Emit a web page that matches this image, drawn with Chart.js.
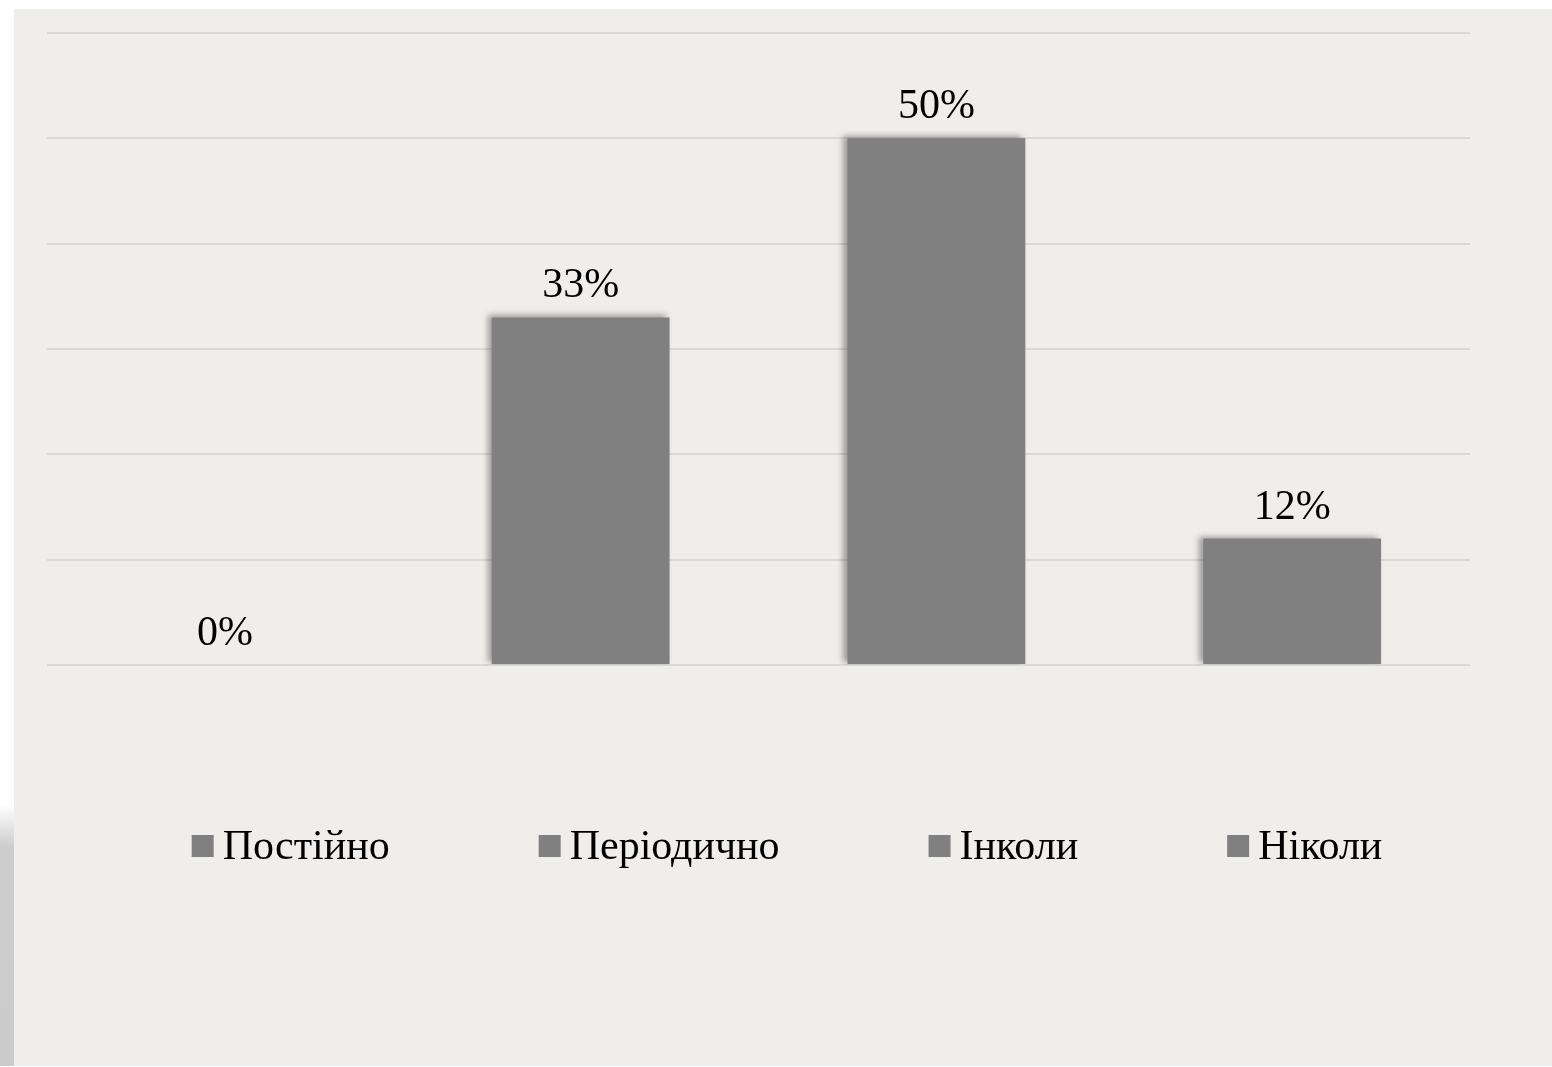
<!DOCTYPE html>
<html>
<head>
<meta charset="utf-8">
<script src="https://cdn.jsdelivr.net/npm/chart.js@4.4.1/dist/chart.umd.min.js"></script>
<style>
  html, body { margin: 0; padding: 0; background: #fff; }
  body { width: 1552px; height: 1067px; position: relative; overflow: hidden; }
  #shadow {
    position: absolute; left: 0; top: 805px; width: 14px; height: 261px;
    background: linear-gradient(to bottom, rgba(205,205,205,0) 0%, #cdcdcd 16%, #cbcbcb 100%);
  }
  #panel {
    position: absolute; left: 14px; top: 9px; width: 1538px; height: 1057px;
    background: #efeeea;
  }
</style>
</head>
<body>
<div id="shadow"></div>
<div id="panel"><canvas id="chart" width="1538" height="1057"></canvas></div>
<script>
const seriesNames = ["Постійно", "Періодично", "Інколи", "Ніколи"];
const seriesValues = [0, 33, 50, 12];
const yTicks = [0, 10, 20, 30, 40, 50, 60];

const barColor = "#808080";
const fontFamily = "'Liberation Serif', 'Times New Roman', serif";

// soft shadow to the upper left of the bars
const barShadow = {
    id: "barShadow",
    beforeDatasetsDraw(chart) {
        const ctx = chart.ctx;
        ctx.save();
        ctx.shadowColor = "rgba(0,0,0,0.35)";
        ctx.shadowBlur = 6;
        ctx.shadowOffsetX = -4;
        ctx.shadowOffsetY = -2;
    },
    afterDatasetsDraw(chart) {
        chart.ctx.restore();
    }
};

// value labels above each bar
const valueLabels = {
    id: "valueLabels",
    afterDatasetsDraw(chart) {
        const ctx = chart.ctx;
        ctx.save();
        ctx.font = "42px " + fontFamily;
        ctx.fillStyle = "#000";
        ctx.textAlign = "center";
        ctx.textBaseline = "alphabetic";
        chart.data.datasets.forEach((ds, i) => {
            chart.getDatasetMeta(i).data.forEach((bar, j) => {
                ctx.fillText(ds.data[j] + "%", bar.x, bar.y - 20);
            });
        });
        ctx.restore();
    }
};

// legend row at the bottom
const bottomLegend = {
    id: "bottomLegend",
    afterDraw(chart) {
        const ctx = chart.ctx;
        const box = 22, gap = 9, spacing = 149, cy = 837;
        ctx.save();
        ctx.font = "42px " + fontFamily;
        ctx.textBaseline = "middle";
        ctx.textAlign = "left";
        const items = chart.data.datasets.map(ds => ({
            text: ds.label, color: ds.backgroundColor,
            w: box + gap + ctx.measureText(ds.label).width
        }));
        const total = items.reduce((s, it) => s + it.w, 0) + spacing * (items.length - 1);
        let x = chart.width / 2 + 4 - total / 2;
        items.forEach(it => {
            ctx.fillStyle = it.color;
            ctx.fillRect(x, cy - box / 2, box, box);
            ctx.fillStyle = "#000";
            ctx.fillText(it.text, x + box + gap, cy + 2);
            x += it.w + spacing;
        });
        ctx.restore();
    }
};

new Chart(document.getElementById("chart"), {
    type: "bar",
    data: {
        labels: [""],
        datasets: seriesNames.map((name, i) => ({
            label: name,
            data: [seriesValues[i]],
            backgroundColor: barColor,
            borderWidth: 0,
            categoryPercentage: 1,
            barPercentage: 0.5
        }))
    },
    options: {
        responsive: false,
        animation: false,
        layout: { padding: { left: 33, right: 82, top: 24, bottom: 401 } },
        plugins: {
            legend: { display: false },
            tooltip: { enabled: false }
        },
        scales: {
            x: { display: false },
            y: {
                min: yTicks[0],
                max: yTicks[yTicks.length - 1],
                afterBuildTicks: axis => { axis.ticks = yTicks.map(v => ({ value: v })); },
                ticks: { display: false },
                border: { display: false },
                grid: { color: "#d9d9d9", lineWidth: 2, drawTicks: false }
            }
        }
    },
    plugins: [barShadow, valueLabels, bottomLegend]
});
</script>
</body>
</html>
